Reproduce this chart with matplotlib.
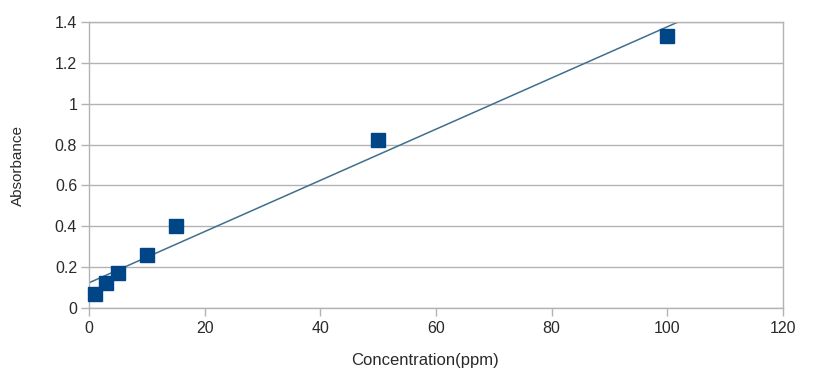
import numpy as np
import matplotlib
matplotlib.use("Agg")
import matplotlib.pyplot as plt

# Calibration standards
concentration_ppm = [1, 3, 5, 10, 15, 50, 100]
absorbance = [0.07, 0.12, 0.17, 0.26, 0.40, 0.82, 1.33]

x_ticks = [0, 20, 40, 60, 80, 100, 120]
y_ticks = [0, 0.2, 0.4, 0.6, 0.8, 1.0, 1.2, 1.4]
y_tick_labels = ["0", "0.2", "0.4", "0.6", "0.8", "1", "1.2", "1.4"]

plt.rcParams["font.family"] = ["Liberation Sans", "DejaVu Sans"]

fig = plt.figure(figsize=(8.35, 3.69), dpi=100)
ax = fig.add_axes([89 / 835, 1 - 308 / 369, (783 - 89) / 835, (308 - 22) / 369])

grid_col = "#b3b3b3"
ax.set_xlim(0, 120)
ax.set_ylim(0, 1.4)
ax.set_xticks(x_ticks)
ax.set_yticks(y_ticks)
ax.set_yticklabels(y_tick_labels)
ax.yaxis.grid(True, color=grid_col, linewidth=1)
ax.set_axisbelow(True)
for s in ax.spines.values():
    s.set_color(grid_col)
    s.set_linewidth(1)
ax.tick_params(axis="both", colors=grid_col, labelcolor="#2a2a2a",
               labelsize=11.5, length=5.5, width=1, direction="out", pad=3)
ax.tick_params(axis="x", pad=4)

# Least-squares trend line
slope, intercept = np.polyfit(concentration_ppm, absorbance, 1)
xs = np.array([0, 120])
ax.plot(xs, slope * xs + intercept, color="#3f6f8c", linewidth=1.1, zorder=2)

ax.plot(concentration_ppm, absorbance, linestyle="none", marker="s",
        markersize=10.5, color="#004586", zorder=3, clip_on=False)

ax.set_xlabel("Concentration(ppm)", fontsize=12, color="#2a2a2a", va="top")
ax.xaxis.set_label_coords(0.484, -0.158)
ax.set_ylabel("Absorbance", fontsize=11, color="#2a2a2a", va="center")
ax.yaxis.set_label_coords(-0.103, 0.5)

fig.savefig("out.png", dpi=100)
